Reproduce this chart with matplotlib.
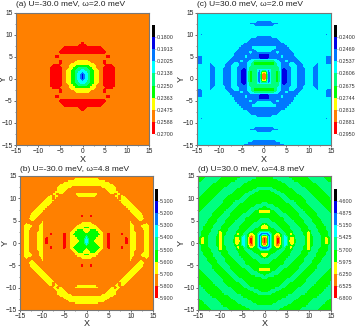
import numpy as np
import matplotlib
matplotlib.use("Agg")
import matplotlib.pyplot as plt
from matplotlib.colors import ListedColormap

plt.rcParams['font.family'] = ['Liberation Sans', 'DejaVu Sans']
W, H = 356, 327

# level-band codes: one quadrant, rows from dy=15.5 down to dy=0
# (step 0.5), columns dx=0..15 (step 0.5), centre of the pattern at x=0, y=0.5.
# 0 black, 1 navy, 2 blue, 3 cyan, 4 spring, 5 green, 6 yellow, 7 orange, 8 red
grid_a = [""] * 16 + [
    "8", "88", "888888888", "8888888888", "88888888888", "",
    "77777777777" + "88", "",
    "6666" + "777777" + "8", "666666" + "7777" + "8",
    "5555" + "666" + "7777" + "888", "44455" + "66" + "777" + "88888",
    "3344556677" + "88888", "2334556677" + "88888",
    "1234556677" + "88888", "1234556677" + "88888",
]
grid_c = [
    "2" * 10,
    "2" * 8,
    "2" * 6,
    "",
    "3" * 20 + "2",
    "",
    "2222" + "3" * 18 + "2",
    "2" * 7,
    "22222" + "3" * 19 + "2",
    "",
    "3" * 8 + "2" + "3" * 17 + "2",
    "",
    "3" * 10 + "2" + "3" * 17 + "2",
    "2222",
    "2" * 7 + "3" * 5 + "2",
    "2" * 8,
    "2" * 10,
    "2" * 11,
    "333333" + "2" * 6,
    "3333" + "2" * 9,
    "222222" + "3" + "2" * 7 + "3333" + "2",
    "111" + "2" * 11,
    "111" + "22222" + "3" + "222222" + "33333" + "2" + "3" * 7 + "222",
    "111" + "2" * 13 + "3" * 12 + "222",
    "4444" + "4" + "33" + "222" + "3" + "2" * 6 + "3" * 11 + "222",
    "55555" + "4" + "33" + "2222" + "33" + "2222" + "3" * 6 + "2" + "333" + "222",
    "444444" + "33" + "2222" + "333" + "222" + "3" * 5 + "22",
    "4444444" + "3" + "21222" + "33" + "2222" + "333" + "222",
    "332344431112233" + "2222" + "333" + "222",
    "641344531112233" + "2222" + "333" + "222",
    "851344531112233" + "2222" + "333" + "222",
    "851344531112233" + "2222" + "333" + "222",
]
grid_b = [
    "", "", "",
    "666666", "6" * 9, "6" * 11, "6" * 13,
    "7" * 7 + "6" * 7, "7" * 9 + "6" * 5, "7" * 10 + "6" * 5,
    "666666" + "7" * 5 + "66" + "7" + "66",
    "66666" + "7" * 8 + "66" + "7" + "66",
    "7" * 6 + "6" + "7" * 7 + "6" + "7" + "666",
    "7" * 15 + "6" * 5, "7" * 16 + "6" * 5, "7" * 17 + "6" * 5,
    "7" * 18 + "6" * 5, "7" * 19 + "6" * 5, "7" * 20 + "6" * 5, "7" * 21 + "6" * 5,
    "77" + "8" + "7" * 19 + "6" * 4,
    "7" * 23 + "6" * 4,
    "7" * 20 + "6" + "777" + "66",
    "666" + "7" * 17 + "6" + "7" * 6 + "6",
    "66666" + "7" * 15 + "66" + "777" + "6666",
    "556666" + "7" * 14 + "66" + "777" + "6666",
    "6655566" + "7" * 13 + "66" + "7777" + "666",
    "65555566" + "7" * 12 + "666" + "777" + "666",
    "55555556" + "77" + "8" + "7" * 5 + "8" + "777" + "666" + "777" + "666",
    "35555566" + "77" + "8" + "7" * 9 + "666" + "777" + "666",
    "24555666" + "77" + "8" + "7" * 7 + "8" + "7" + "666" + "777" + "666",
    "24556666" + "77" + "8" + "7" * 7 + "8" + "7" + "666" + "777" + "666",
]
grid_d = [
    "4" * 7 + "5" * 9 + "4" * 9,
    "4" * 9 + "5" * 8 + "4" * 9,
    "4" * 11 + "5" * 8 + "4" * 8,
    "5" * 4 + "4" * 9 + "5" * 7 + "4" * 8,
    "5" * 6 + "4" * 8 + "5" * 7 + "4" * 8,
    "5" * 8 + "4" * 8 + "5" * 6 + "4" * 9,
    "5" * 10 + "4" * 7 + "5" * 7 + "4" * 7,
    "4444" + "5" * 7 + "4" * 8 + "5" * 6 + "4" * 6,
    "444444" + "5" * 7 + "4" * 7 + "5" * 6 + "4" * 5,
    "555" + "44444" + "5" * 6 + "4" * 7 + "5" * 6 + "4444",
    "55555" + "44444" + "5" * 5 + "4" * 7 + "5" * 6 + "444",
    "5" * 7 + "4444" + "5" * 6 + "4" * 6 + "5" * 6 + "44",
    "5" * 8 + "4444" + "5" * 6 + "4" * 6 + "5" * 6 + "4",
    "5" * 9 + "44444" + "5" * 5 + "4" * 6 + "5" * 5 + "4",
    "44" + "5" * 8 + "44444" + "5555" + "4" * 7,
    "44444" + "5" * 7 + "4444" + "5555" + "4" * 7,
    "5" + "444444" + "5" * 6 + "4444" + "5555" + "4" * 7,
    "555" + "44444" + "5" * 6 + "4444" + "5555" + "4" * 7,
    "666" + "55" + "4444" + "5" * 6 + "4444" + "5555" + "4" * 7 + "5",
    "5" * 6 + "44444" + "5" * 5 + "4444" + "5555" + "4" * 7,
    "5" * 7 + "44444" + "5555" + "44444" + "555" + "4" * 7,
    "444" + "5" * 6 + "4444" + "5555" + "44444" + "555" + "4" * 6,
    "4444" + "5" * 5 + "44444" + "5555" + "4444" + "5555" + "4" * 5,
    "4" * 6 + "5555" + "44444" + "555" + "44444" + "555" + "44444",
    "6" + "5" + "44444" + "5555" + "44444" + "555" + "44444" + "555" + "4444",
    "66" + "5" + "44444" + "5555" + "44444" + "555" + "4444" + "5555" + "444",
    "55555" + "4444" + "555" + "44444" + "555" + "44444" + "555" + "444",
    "333555" + "4444" + "555" + "44444" + "55" + "6" + "4444" + "5555" + "44",
    "1123556543" + "55" + "6" + "44444" + "55" + "6" + "44444" + "555" + "44",
    "65135675433" + "555" + "44444" + "565" + "4444" + "555" + "44",
    "8613568643356644444565444455654",
    "8613568643356644444565444455654",
]

titles = ["(a) U=-30.0 meV, \u03c9=2.0 meV", "(c) U=30.0 meV, \u03c9=2.0 meV",
          "(b) U=-30.0 meV, \u03c9=4.8 meV", "(d) U=30.0 meV, \u03c9=4.8 meV"]
labels_a = ["0.1800", "0.1913", "0.2025", "0.2138", "0.2250", "0.2363", "0.2475", "0.2588", "0.2700"]
labels_c = ["0.2400", "0.2469", "0.2537", "0.2606", "0.2675", "0.2744", "0.2813", "0.2881", "0.2950"]
labels_b = ["5.100", "5.200", "5.300", "5.400", "5.500", "5.600", "5.700", "5.800", "5.900"]
labels_d = ["4.600", "4.875", "5.150", "5.425", "5.700", "5.975", "6.250", "6.525", "6.800"]
band_colours = ["#000000", "#0000e6", "#0078ff", "#00ffff", "#00ff80",
                "#00ff00", "#ffff00", "#ff8000", "#ff0000"]
x_ticks = [-15, -10, -5, 0, 5, 10, 15]

panels = [
    (grid_a, labels_a, "7", titles[0], (16, 12.5, 149, 145), (152, 25, 154.6, 134), 5.0, 8.0, 10.5),
    (grid_c, labels_c, "3", titles[1], (197, 12.5, 331, 145), (334, 25, 336.6, 134), 5.0, 11.5, 10.5),
    (grid_b, labels_b, "7", titles[2], (20, 176, 153, 310), (155, 189, 157.6, 298), 3.6, 10.5, 8.5),
    (grid_d, labels_d, "5", titles[3], (198, 176, 331, 310), (334, 189, 336.6, 298), 3.6, 12.5, 8.5),
]


def px_rect(r):
    return [r[0] / W, 1 - r[3] / H, (r[2] - r[0]) / W, (r[3] - r[1]) / H]


def refine(a, axis):
    """Four samples per grid step, then a light rounding of the staircase edges."""
    n = a.shape[axis]
    old = np.arange(n)
    new = np.arange(0, n - 1 + 1e-9, 0.25)
    a = np.apply_along_axis(lambda v: np.interp(new, old, v), axis, a)
    kernel = np.array([1, 4, 6, 4, 1]) / 16
    return np.apply_along_axis(lambda v: np.convolve(np.pad(v, 2, mode='edge'), kernel, mode='valid'), axis, a)


fig = plt.figure(figsize=(W / 100, H / 100), dpi=100)
cmap = ListedColormap(band_colours)
dx = 0.5 * np.arange(31)
dy = 0.5 * np.arange(32)
xs = np.concatenate([-dx[:0:-1], dx])
ys = 0.5 + np.concatenate([-dy[:0:-1], dy])
xs_fine = np.interp(np.arange(0, len(xs) - 1 + 1e-9, 0.25), np.arange(len(xs)), xs)
ys_fine = np.interp(np.arange(0, len(ys) - 1 + 1e-9, 0.25), np.arange(len(ys)), ys)

for rows, labs, bg, title, rect, crect, pad, ylab, xlab in panels:
    rows = (list(rows) + [""] * 32)[:32]
    q = np.array([[int(c) for c in r.ljust(31, bg)[:31]] for r in rows], float)
    top = q[::-1]                      # dy ascending
    half = np.hstack([top[:, :0:-1], top])
    codes = np.vstack([half[:0:-1], half])
    codes = refine(refine(codes, 0), 1)
    vals = [float(s) for s in labs]
    step = (vals[-1] - vals[0]) / 8
    z = vals[0] + (codes - 0.5) * step
    levels = [vals[0] - step] + vals
    ax = fig.add_axes(px_rect(rect))
    cf = ax.contourf(xs_fine, ys_fine, z, levels=levels, cmap=cmap)
    ax.set_xlim(-15, 15)
    ax.set_ylim(-15, 15)
    ax.set_xticks(x_ticks)
    ax.set_yticks(x_ticks)
    ax.set_xticks(np.arange(-12.5, 15, 5), minor=True)
    ax.set_yticks(np.arange(-12.5, 15, 5), minor=True)
    ax.tick_params(which='major', length=1.6, width=0.5, labelsize=4.8, pad=0.8, color='#333333', labelcolor='#222222')
    ax.tick_params(which='minor', length=1.0, width=0.4, color='#333333')
    for s in ax.spines.values():
        s.set_linewidth(0.8)
        s.set_color('#777777')
    ax.set_xlabel("X", fontsize=6.5, color='#222222')
    ax.set_ylabel("Y", fontsize=6.5, color='#222222')
    ax.xaxis.set_label_coords(0.5, -xlab / 133)
    ax.yaxis.set_label_coords(-ylab / 133, 0.5)
    ax.set_title(title, loc='left', fontsize=6.0, pad=pad, color='#222222')
    cax = fig.add_axes(px_rect(crect))
    cb = fig.colorbar(cf, cax=cax, ticks=vals)
    cax.invert_yaxis()
    cb.set_ticklabels(labs)
    cb.outline.set_visible(False)
    cax.tick_params(length=0.6, width=0.3, labelsize=3.9, pad=0.8, labelcolor='#333333')

fig.savefig("out.png", dpi=100)
